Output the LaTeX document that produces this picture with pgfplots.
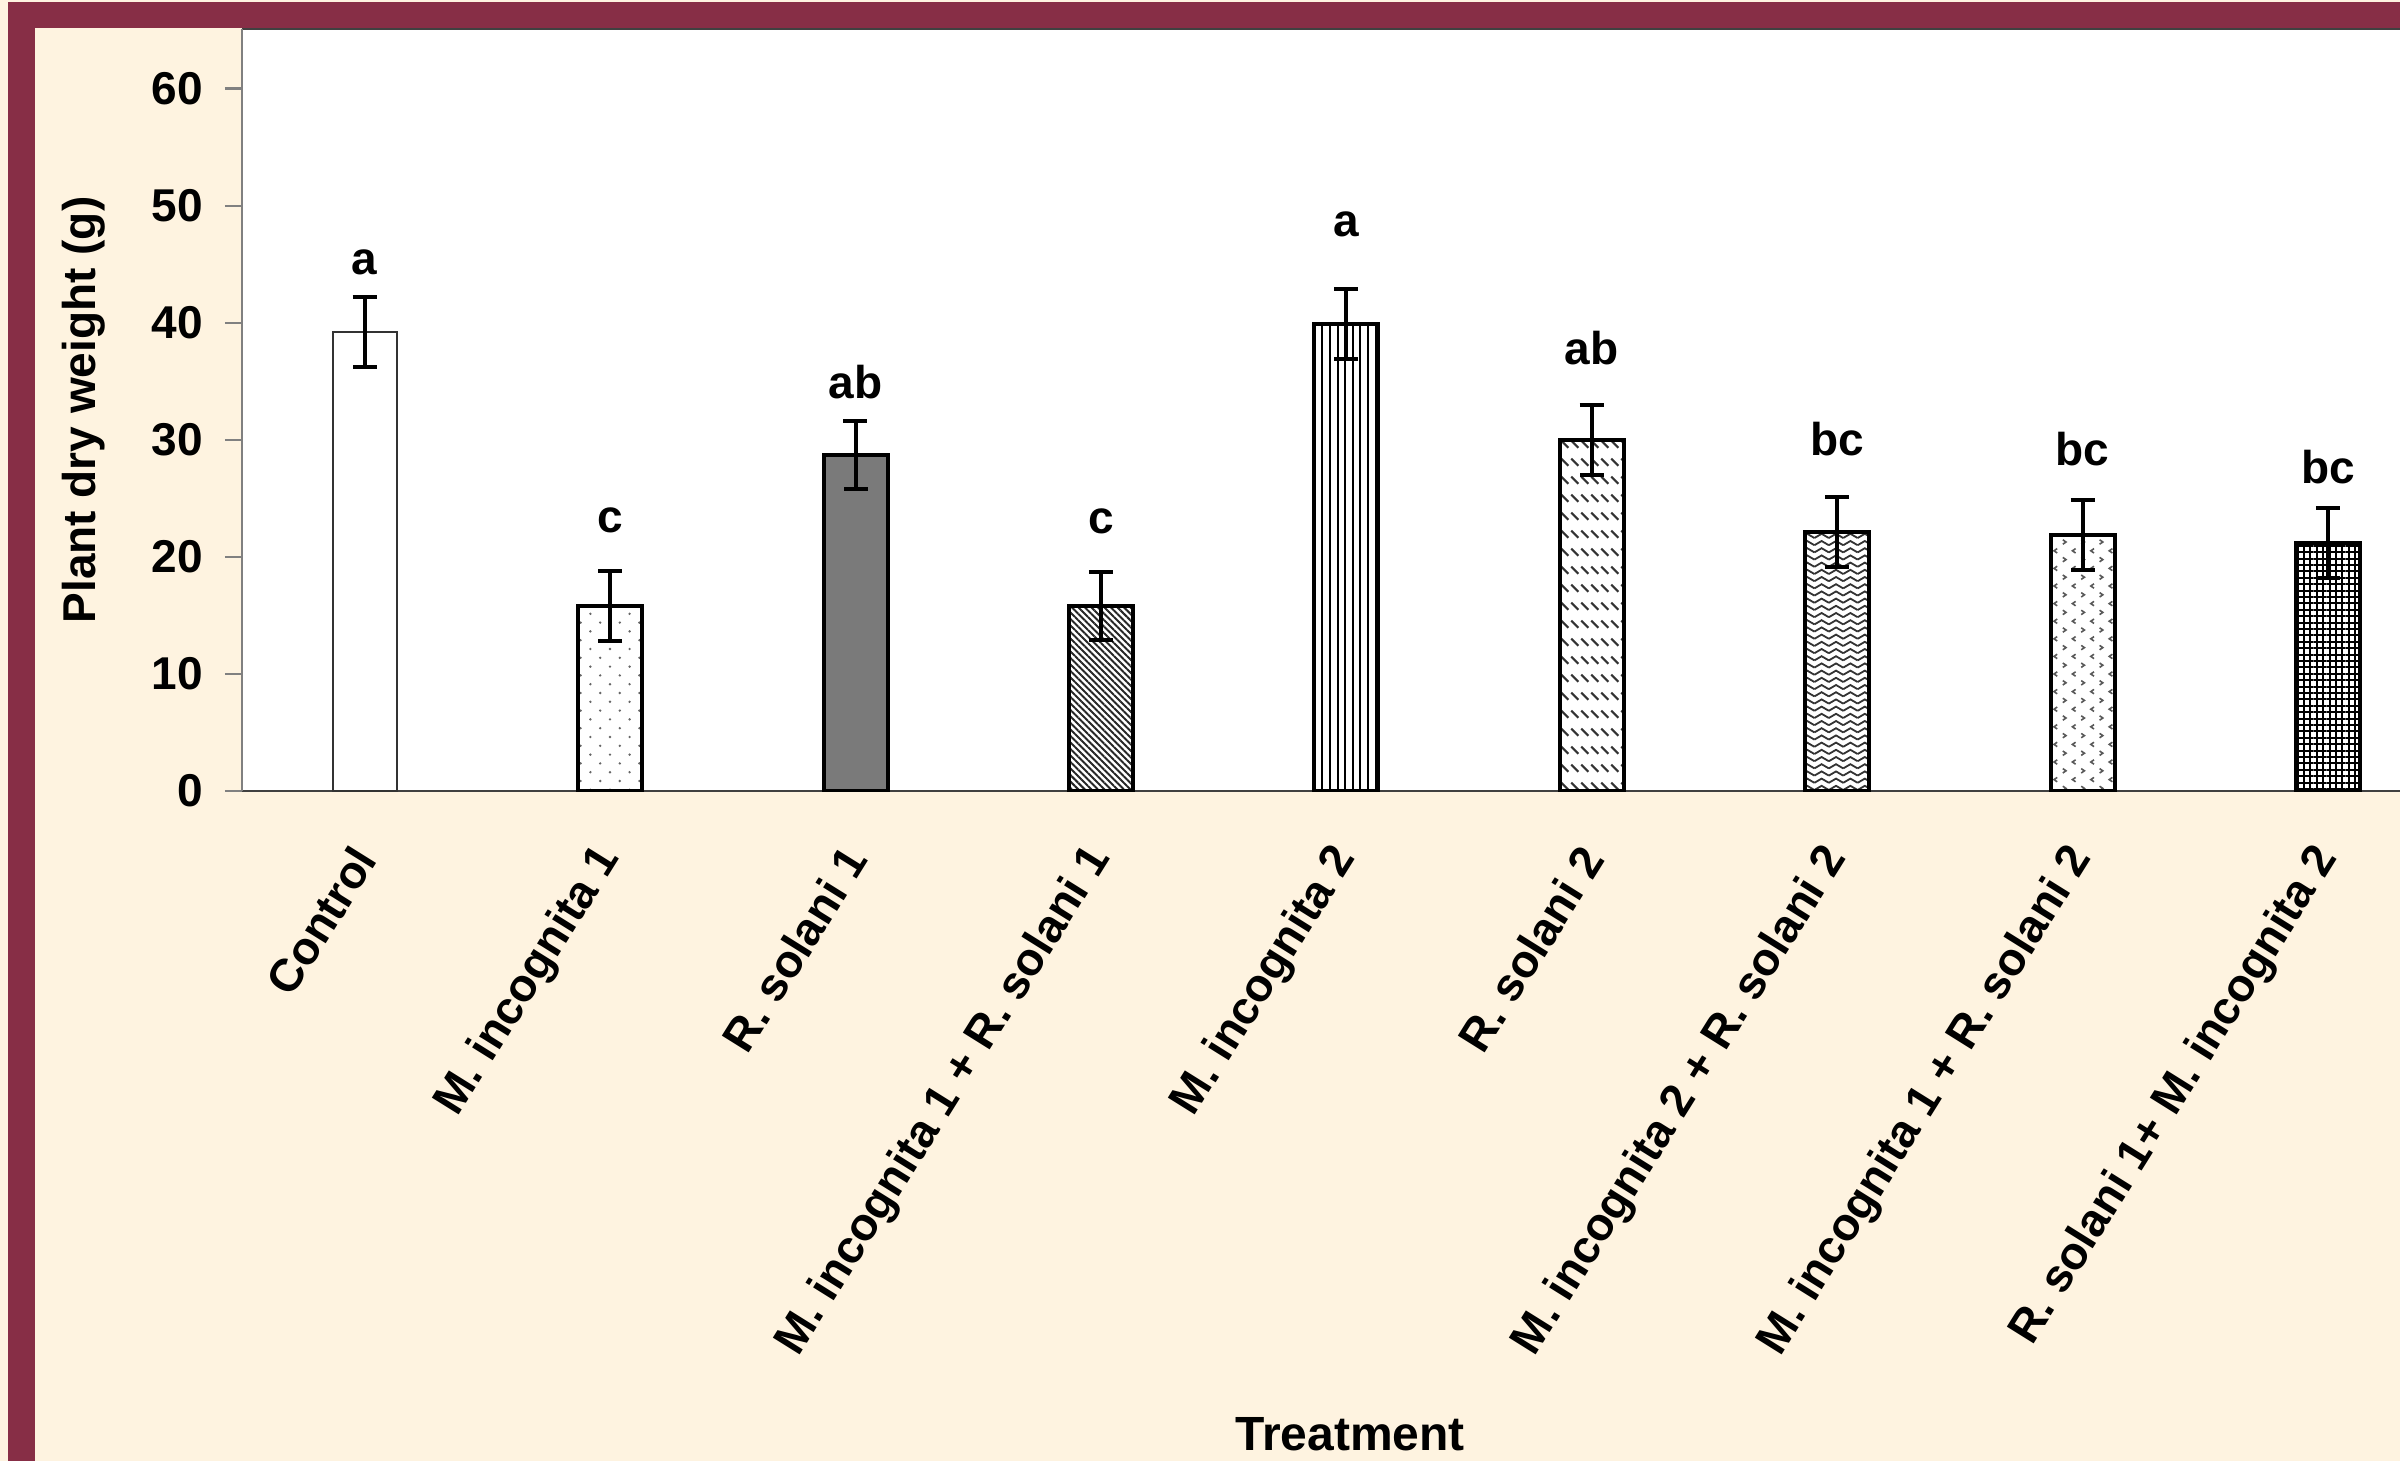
\documentclass[border=0pt]{standalone}
\usepackage{fontspec}
\setmainfont{Liberation Sans}
\usepackage{pgfplots}
\pgfplotsset{compat=1.18}
\usetikzlibrary{patterns,patterns.meta}
\definecolor{maroon}{HTML}{872E46}
\definecolor{beige}{HTML}{FEF3E0}

\pgfdeclarepatternformonly{sparsedots}{\pgfqpoint{-0.5pt}{-0.5pt}}{\pgfqpoint{5.4pt}{4.9pt}}{\pgfqpoint{4.9pt}{4.4pt}}{%
  \pgfpathcircle{\pgfqpoint{0.6pt}{0.6pt}}{0.33pt}%
  \pgfpathcircle{\pgfqpoint{3.05pt}{2.8pt}}{0.33pt}%
  \pgfusepath{fill}}
\pgfdeclarepatternformonly{dashdiag}{\pgfqpoint{-0.5pt}{-0.5pt}}{\pgfqpoint{3pt}{5pt}}{\pgfqpoint{2.5pt}{4.5pt}}{%
  \pgfsetlinewidth{0.5pt}%
  \pgfpathmoveto{\pgfqpoint{0.3pt}{3.1pt}}%
  \pgfpathlineto{\pgfqpoint{2.1pt}{1.3pt}}%
  \pgfusepath{stroke}}
\pgfdeclarepatternformonly{zigzag}{\pgfqpoint{-0.5pt}{-0.5pt}}{\pgfqpoint{4.1pt}{2.3pt}}{\pgfqpoint{3.6pt}{1.8pt}}{%
  \pgfsetlinewidth{0.45pt}%
  \pgfpathmoveto{\pgfqpoint{0pt}{0.35pt}}%
  \pgfpathlineto{\pgfqpoint{1.8pt}{1.4pt}}%
  \pgfpathlineto{\pgfqpoint{3.6pt}{0.35pt}}%
  \pgfusepath{stroke}}
\pgfdeclarepatternformonly{chevrons}{\pgfqpoint{-0.5pt}{-0.5pt}}{\pgfqpoint{5.1pt}{4.9pt}}{\pgfqpoint{4.6pt}{4.4pt}}{%
  \pgfsetlinewidth{0.4pt}%
  \pgfpathmoveto{\pgfqpoint{0.5pt}{0.4pt}}%
  \pgfpathlineto{\pgfqpoint{1.3pt}{0.95pt}}%
  \pgfpathlineto{\pgfqpoint{0.5pt}{1.5pt}}%
  \pgfpathmoveto{\pgfqpoint{3.7pt}{2.6pt}}%
  \pgfpathlineto{\pgfqpoint{2.9pt}{3.15pt}}%
  \pgfpathlineto{\pgfqpoint{3.7pt}{3.7pt}}%
  \pgfusepath{stroke}}

\begin{document}
\begin{tikzpicture}
\useasboundingbox (0pt,0pt) rectangle (600pt,365.25pt);
\clip (0pt,0pt) rectangle (600pt,365.25pt);
\fill[beige] (0pt,0pt) rectangle (600pt,365.25pt);
\fill[maroon] (2pt,0pt) rectangle (8.75pt,364.75pt);
\fill[maroon] (2pt,358.25pt) rectangle (600pt,364.75pt);
\begin{axis}[
  at={(60.5pt,167.5pt)}, anchor=south west,
  scale only axis, width=552.15pt, height=190.5pt,
  xmin=-0.5, xmax=8.5, ymin=0, ymax=65.1,
  axis background/.style={fill=white},
  axis x line=box, axis y line=left,
  axis line style={-},
  x axis line style={draw=black!75, line width=0.6pt},
  y axis line style={draw=black!50, line width=0.6pt},
  ytick={0,10,...,60},
  tick align=outside,
  major tick length=4.25pt,
  ytick style={draw=black!50, line width=0.6pt},
  xtick={0,...,8},
  xtick style={draw=none},
  xticklabels={Control, M. incognita 1, R. solani 1, M. incognita 1 + R. solani 1, M. incognita 2, R. solani 2, M. incognita 2 + R. solani 2, M. incognita 1 + R. solani 2, R. solani 1+ M. incognita 2},
  /pgf/number format/assume math mode=true,
  yticklabel style={font=\fontsize{11.5}{13}\selectfont\bfseries, xshift=-2pt},
  xticklabel style={font=\fontsize{11.5}{13}\selectfont\bfseries, rotate=58, anchor=east, xshift=-5.7pt, yshift=-5.75pt},
  ylabel={Plant dry weight (g)},
  ylabel style={font=\fontsize{11.5}{13}\selectfont\bfseries, at={(axis description cs:-0.0715,0.5)}, anchor=center},
  xlabel={Treatment},
  xlabel style={font=\fontsize{12}{14}\selectfont\bfseries, at={(axis description cs:0.5017,-0.8438)}, anchor=center},
  every axis plot/.append style={ybar, bar width=16pt, line width=1pt, draw=black,
    error bars/y dir=both, error bars/y explicit,
    error bars/error bar style={line width=1pt, black},
    error bars/error mark options={rotate=90, mark size=3pt, line width=1pt, black}},
]
\addplot[fill=white, draw=black!80, line width=0.5pt] coordinates {(0,39.2) +- (0,3.0)};
\addplot[pattern=sparsedots, pattern color=black!60] coordinates {(1,15.8) +- (0,3.0)};
\addplot[fill=black!52] coordinates {(2,28.7) +- (0,2.9)};
\addplot[pattern={Lines[angle=-45, distance=1.15pt, line width=0.5pt]}, pattern color=black!85] coordinates {(3,15.8) +- (0,2.9)};
\addplot[pattern={Lines[angle=90, distance=1.9pt, line width=0.5pt]}] coordinates {(4,39.9) +- (0,3.0)};
\addplot[pattern=dashdiag, pattern color=black!80] coordinates {(5,30.0) +- (0,3.0)};
\addplot[pattern=zigzag, pattern color=black!80] coordinates {(6,22.1) +- (0,3.0)};
\addplot[pattern=chevrons, pattern color=black!65] coordinates {(7,21.9) +- (0,3.0)};
\addplot[pattern={Hatch[angle=0, distance=1.6pt, line width=0.5pt]}] coordinates {(8,21.2) +- (0,3.0)};
\begin{scope}[every node/.style={font=\fontsize{11.5}{13}\selectfont\bfseries, anchor=center}]
\node at (axis cs:0,45.2) {a};
\node at (axis cs:1,23.1) {c};
\node at (axis cs:2,34.9) {ab};
\node at (axis cs:3,23.0) {c};
\node at (axis cs:4,48.4) {a};
\node at (axis cs:5,37.8) {ab};
\node at (axis cs:6,30.1) {bc};
\node at (axis cs:7,29.2) {bc};
\node at (axis cs:8,27.7) {bc};
\end{scope}
\end{axis}
\end{tikzpicture}
\end{document}
